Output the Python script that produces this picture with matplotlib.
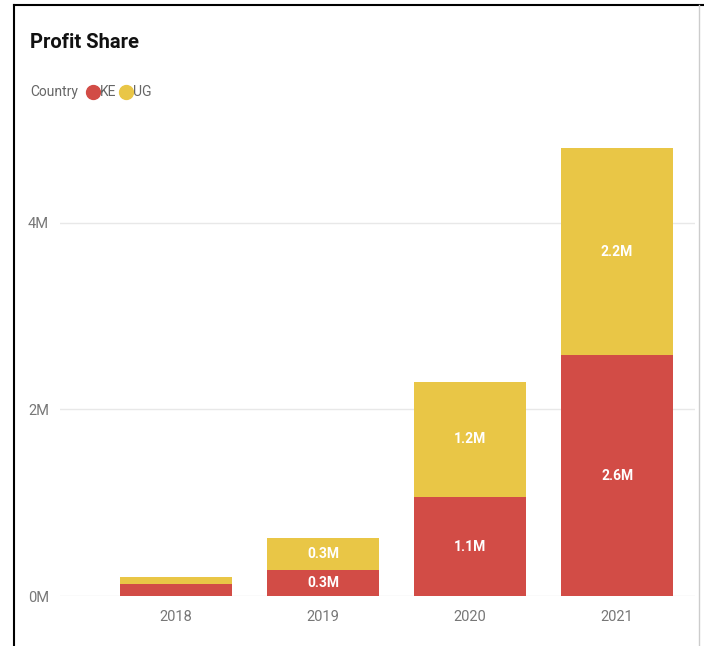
import matplotlib.pyplot as plt
from matplotlib.lines import Line2D

years = ["2018", "2019", "2020", "2021"]
ke = [0.13e6, 0.28e6, 1.06e6, 2.58e6]
ug = [0.07e6, 0.34e6, 1.24e6, 2.22e6]
ke_labels = ["", "0.3M", "1.1M", "2.6M"]
ug_labels = ["", "0.3M", "1.2M", "2.2M"]
y_ticks = [0, 2e6, 4e6]
y_tick_labels = ["0M", "2M", "4M"]

RED = "#D24C46"
YELLOW = "#E9C646"
GREY = "#666666"

plt.rcParams["font.family"] = ["Roboto", "DejaVu Sans"]

W, H = 704, 646
fig = plt.figure(figsize=(W / 100, H / 100), dpi=100)
ax = fig.add_axes([60 / W, 50 / H, 635 / W, 456 / H])

x = list(range(len(years)))
ax.bar(x, ke, width=0.76, color=RED)
ax.bar(x, ug, width=0.76, bottom=ke, color=YELLOW)

# data labels in the middle of each segment
for i in x:
    if ke_labels[i]:
        ax.text(i, ke[i] / 2, ke_labels[i], ha="center", va="center",
                color="white", fontsize=10, fontweight="bold")
    if ug_labels[i]:
        ax.text(i, ke[i] + ug[i] / 2, ug_labels[i], ha="center", va="center",
                color="white", fontsize=10, fontweight="bold")

ax.set_xlim(-0.79, 3.53)
ax.set_ylim(0, 4.89e6)
ax.set_xticks(x)
ax.set_xticklabels(years)
ax.set_yticks(y_ticks)
ax.set_yticklabels(y_tick_labels)
ax.tick_params(length=0, labelsize=10.5, colors="#777777")
ax.tick_params(axis="x", pad=10)
ax.tick_params(axis="y", pad=8)
ax.grid(axis="y", color="#E8E8E8", linewidth=1)
ax.set_axisbelow(True)
for s in ax.spines.values():
    s.set_visible(False)

# title and legend
fig.text(30 / W, 1 - 43 / H, "Profit Share", fontsize=14.5, fontweight="bold",
         color="#111111", va="center")
fig.text(30 / W, 1 - 92 / H, "Country", fontsize=10, color=GREY, va="center")
fig.add_artist(Line2D([93 / W], [1 - 92 / H], marker="o", markersize=10,
                      color=RED, linestyle="none"))
fig.text(100 / W, 1 - 92 / H, "KE", fontsize=10, color=GREY, va="center")
fig.add_artist(Line2D([126 / W], [1 - 92 / H], marker="o", markersize=10,
                      color=YELLOW, linestyle="none"))
fig.text(133 / W, 1 - 92 / H, "UG", fontsize=10, color=GREY, va="center")

# frame around the visual
fig.add_artist(Line2D([14 / W, 14 / W], [0, 1 - 5 / H], color="black", linewidth=1.5))
fig.add_artist(Line2D([14 / W, 1], [1 - 5 / H, 1 - 5 / H], color="black", linewidth=1.5))
fig.add_artist(Line2D([699 / W, 699 / W], [0, 1 - 5 / H], color="#CCCCCC", linewidth=1))

fig.savefig("out.png", dpi=100)
